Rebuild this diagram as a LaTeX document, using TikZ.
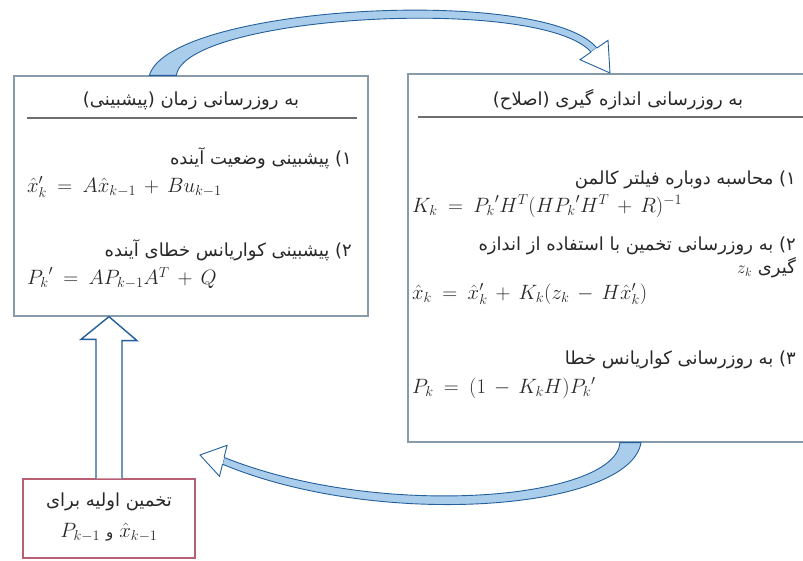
\documentclass[tikz,border=0pt]{standalone}
\usepackage{fontspec}
\newfontfamily\persianfont[Script=Arabic]{DejaVu Sans}
\TeXXeTstate=1
\usetikzlibrary{positioning, calc}
\definecolor{boxgray}{RGB}{135,155,170}
\definecolor{rulegray}{RGB}{110,110,110}
\definecolor{initred}{RGB}{185,95,115}
\definecolor{cycleblue}{RGB}{35,95,155}
\definecolor{cyclefill}{RGB}{170,205,235}
\definecolor{textgray}{RGB}{40,40,40}
\newcommand{\eqspacing}{\thickmuskip=9mu\relax\medmuskip=7mu\relax}
\tikzset{
	stagebox/.style={draw=boxgray, line width=1.3pt, fill=white, inner sep=0pt}
}
\tikzset{
	fatext/.style={font=\persianfont\fontsize{18}{21}\selectfont, text=textgray, inner sep=0pt}
}
\tikzset{
	eqtext/.style={font=\fontsize{20}{23}\selectfont\eqspacing, text=textgray, inner sep=0pt}
}
\tikzset{
	cyclearrow/.style={draw=cycleblue, line width=0.9pt, fill=cyclefill}
}
\newcommand{\fa}[1]{\beginR #1\endR}

\begin{document}
\begin{tikzpicture}[x=1pt, y=-1pt, >=stealth]
      \useasboundingbox (0,0) rectangle (803,560);
      \clip (0,0) rectangle (803,560);
      % stages
      \node[stagebox, minimum width=354pt, minimum height=240pt] (timeupd) at (191,196) {};
      \node[stagebox, minimum width=422pt, minimum height=368pt] (measupd) at (619,258) {};
      \node[stagebox, draw=initred, minimum width=172pt, minimum height=79pt] (initest) at (109,518.5) {};
      % time update
      \node[fatext] (timehead) at (191,101) {\fa{به روزرسانی زمان (پیشبینی)}};
      \draw[rulegray, line width=1.2pt] (27,118) -- (357,118);
      \node[fatext, anchor=east] (predstate) at (352,158) {\fa{۱) پیشبینی وضعیت آینده}};
      \node[eqtext, anchor=west] (predstateeq) at (27,187) {${\hat{x}_k}' = A\hat{x}_{k-1} + Bu_{k-1}$};
      \node[fatext, anchor=east] (predcov) at (352,250) {\fa{۲) پیشبینی کواریانس خطای آینده}};
      \node[eqtext, anchor=west] (predcoveq) at (27,278) {${P_k}' = AP_{k-1}A^T + Q$};
      % measurement update
      \node[fatext] (meashead) at (618,100) {\fa{به روزرسانی اندازه گیری (اصلاح)}};
      \draw[rulegray, line width=1.2pt] (418,117) -- (803,117);
      \node[fatext, anchor=east] (gain) at (796,180) {\fa{۱) محاسبه دوباره فیلتر کالمن}};
      \node[eqtext, anchor=west] (gaineq) at (412,206) {$K_k = {P_k}'H^T(H{P_k}'H^T + R)^{-1}$};
      \node[fatext, anchor=east] (corrstate) at (796,246) {\fa{۲) به روزرسانی تخمین با استفاده از اندازه}};
      \node[fatext, anchor=east] (corrstatez) at (796,268) {$z_k$\ \fa{گیری}};
      \node[eqtext, anchor=west] (corrstateeq) at (412,294) {$\hat{x}_k = {\hat{x}_k}' + K_k(z_k - H{\hat{x}_k}')$};
      \node[fatext, anchor=east] (corrcov) at (796,360) {\fa{۳) به روزرسانی کواریانس خطا}};
      \node[eqtext, anchor=west] (corrcoveq) at (412,388) {$P_k = (1 - K_kH){P_k}'$};
      % initial estimate
      \node[fatext] (inittext) at (109,502) {\fa{تخمین اولیه برای}};
      \node[eqtext] (initvars) at (109,532) {$P_{k-1}$ {\persianfont\fontsize{15}{18}\selectfont و} $\hat{x}_{k-1}$};
      % cycle arrows
      \coordinate (upout) at ([xshift=136pt]timeupd.north west);
      \coordinate (upin) at ([xshift=163pt]timeupd.north west);
      \coordinate (lowin) at ([xshift=1pt]measupd.south);
      \coordinate (lowout) at ([xshift=22pt]measupd.south);
      \draw[cyclearrow] (upout) .. controls (170,5) and (545,-15) .. (596.9,48) -- (591.1,52) .. controls (540,-5) and (185,15) .. (upin) -- cycle;
      \draw[cyclearrow, fill=white] (596.9,48) -- (608,40.3) -- (610,73) -- (580,59.7) -- (591.1,52);
      \draw[cyclearrow] (lowout) .. controls (630,510) and (380,530) .. (222.5,464.2) -- (224.1,457.4) .. controls (380,520) and (615,500) .. (lowin) -- cycle;
      \draw[cyclearrow, fill=white] (224.1,457.4) -- (227.1,445.3) -- (200,455) -- (219.5,476.3) -- (222.5,464.2);
      % init arrow
      \draw[cyclearrow, line width=1.4pt, fill=white] ([xshift=-13pt]initest.north) -- ++(0,-139) -- ++(-15,0) -- (timeupd.south -| initest.north) -- ++(28,24) -- ++(-15,0) -- ([xshift=13pt]initest.north);
    \end{tikzpicture}
\end{document}
